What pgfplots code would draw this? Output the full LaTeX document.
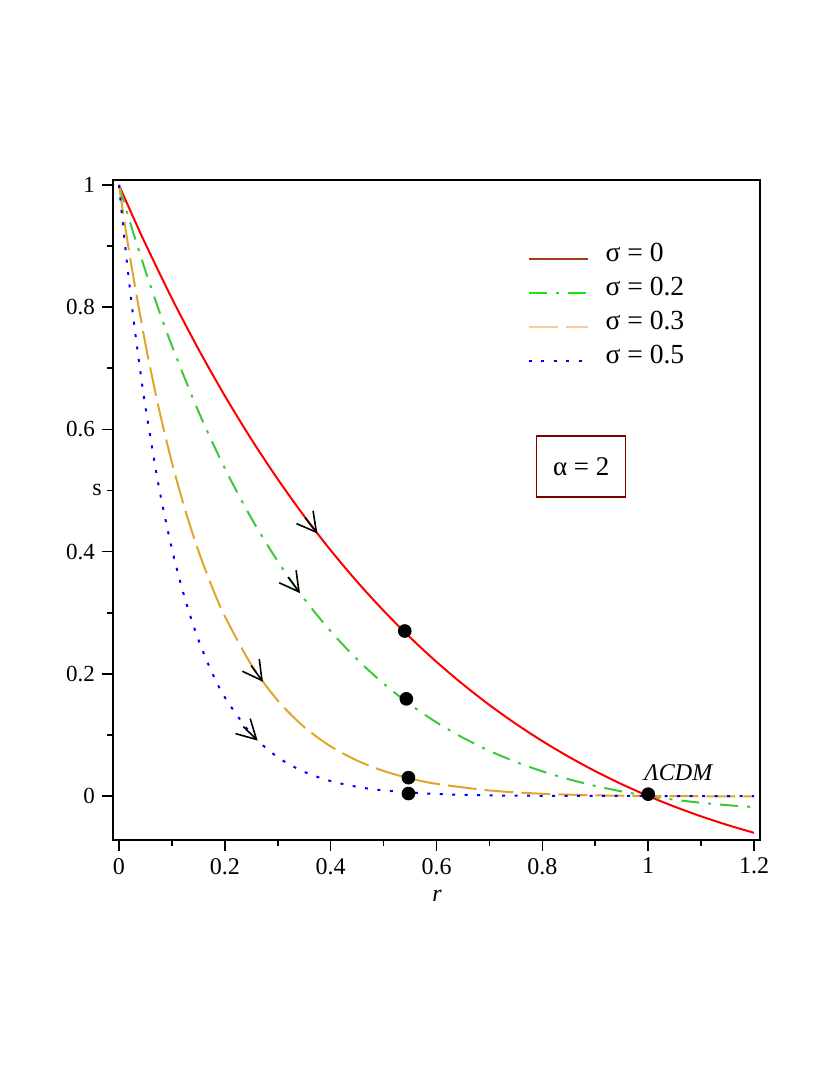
\documentclass[border=0pt]{standalone}
\usepackage{fontspec}
\setmainfont{Liberation Serif}
\usepackage{pgfplots}
\pgfplotsset{compat=1.18}
\usetikzlibrary{arrows.meta}

\definecolor{legbrown}{RGB}{165,60,25}
\definecolor{leggreen}{RGB}{20,230,20}
\definecolor{legpeach}{RGB}{255,200,150}
\definecolor{cgreen}{RGB}{60,200,60}
\definecolor{corange}{RGB}{225,165,45}
\definecolor{alphabox}{RGB}{128,0,0}

\begin{document}
\begin{tikzpicture}
\useasboundingbox (0,0) rectangle (415pt,537.5pt);
\begin{axis}[
    at={(56.5pt,117.5pt)}, anchor=south west,
    scale only axis, width=323.5pt, height=330pt,
    xmin=-0.0113, xmax=1.2113, ymin=-0.072, ymax=1.0082,
    axis line style={line width=1pt},
    xtick={0,0.2,0.4,0.6,0.8,1,1.2},
    minor xtick={0.1,0.3,0.5,0.7,0.9,1.1},
    ytick={0,0.2,0.4,0.6,0.8,1},
    minor ytick={0.1,0.3,0.5,0.7,0.9},
    xtick pos=lower, ytick pos=left,
    tick align=outside,
    major tick length=5.5pt, minor tick length=2.8pt,
    tick style={black, line width=0.8pt},
    /pgf/number format/assume math mode=true,
    xticklabel style={font=\fontsize{12}{14}\selectfont},
    yticklabel style={font=\fontsize{11.5}{14}\selectfont},
    xlabel={\textit{r}},
    ylabel={s},
    xlabel style={font=\fontsize{12}{14}\selectfont, at={(axis description cs:0.501,0)}, anchor=center, yshift=-28pt},
    ylabel style={font=\fontsize{12}{14}\selectfont, at={(axis description cs:0,0.530)}, anchor=center, rotate=-90, xshift=-8pt},
    legend image code/.code={\draw[#1] (0pt,0pt) -- (29.5pt,0pt);},
    legend style={draw=none, fill=none, inner sep=0pt, outer sep=0pt,
        at={(axis cs:0.772,0.9065)}, anchor=north west,
        font=\fontsize{13.8}{15}\selectfont, column sep=8.5pt, row sep=0pt,
        nodes={inner sep=0pt, text height=9.5pt, text depth=7.5pt}},
    legend cell align=left,
    clip=true,
]

% sigma = 0
\addplot[red, line width=1pt, smooth, forget plot] coordinates {
(0,1) (0.025,0.95093) (0.05,0.90367) (0.1,0.81435) (0.15,0.73160) (0.2,0.65498)
(0.25,0.58410) (0.3,0.51857) (0.35,0.45805) (0.4,0.40219) (0.45,0.35070)
(0.5,0.30327) (0.55,0.25963) (0.6,0.21952) (0.65,0.18272) (0.7,0.14898)
(0.75,0.11809) (0.8,0.08987) (0.85,0.06411) (0.9,0.04066) (0.95,0.01934)
(1.0,0) (1.05,-0.01750) (1.1,-0.03329) (1.15,-0.04750) (1.2,-0.06024)
};
% sigma = 0.2
\addplot[cgreen, line width=1pt, smooth, dash pattern=on 9pt off 4.5pt on 1.5pt off 4.5pt, forget plot] coordinates {
(0,1) (0.025,0.92745) (0.05,0.85960) (0.075,0.79615) (0.1,0.73686) (0.15,0.62970)
(0.2,0.53626) (0.25,0.45490) (0.3,0.38417) (0.35,0.32278) (0.4,0.26960)
(0.45,0.22361) (0.5,0.18394) (0.55,0.14979) (0.6,0.12048) (0.65,0.09539)
(0.7,0.07398) (0.75,0.05578) (0.8,0.04038) (0.85,0.02740) (0.9,0.01653)
(0.95,0.00748) (1.0,0) (1.05,-0.00612) (1.1,-0.01108) (1.15,-0.01504) (1.2,-0.01814)
};
% sigma = 0.3
\addplot[corange, line width=1pt, smooth, dash pattern=on 14.5pt off 4pt, forget plot] coordinates {
(0,1) (0.01,0.94172) (0.025,0.86044) (0.05,0.73986) (0.075,0.63574) (0.1,0.54588)
(0.125,0.46835) (0.15,0.40151) (0.175,0.34391) (0.2,0.29430) (0.25,0.21488)
(0.3,0.15619) (0.35,0.11295) (0.4,0.08120) (0.45,0.05797) (0.5,0.04104)
(0.55,0.02877) (0.6,0.01991) (0.7,0.00906) (0.8,0.00366) (0.9,0.00111)
(1.0,0) (1.1,-0.00041) (1.2,-0.00050)
};
% sigma = 0.5
\addplot[blue, line width=1pt, smooth, dash pattern=on 1.5pt off 4.75pt, forget plot] coordinates {
(0,1) (0.01,0.91388) (0.02,0.83510) (0.03,0.76303) (0.04,0.69710) (0.05,0.63680)
(0.075,0.50765) (0.1,0.40440) (0.125,0.32190) (0.15,0.25601) (0.175,0.20344)
(0.2,0.16152) (0.25,0.10150) (0.3,0.06350) (0.35,0.03953) (0.4,0.02446)
(0.45,0.01503) (0.5,0.00916) (0.6,0.00329) (0.7,0.00111) (0.8,0.00033)
(1.0,0) (1.2,0)
};

% direction arrows
\addplot[black, line width=0.8pt, forget plot,
    quiver={u=\thisrow{u}, v=\thisrow{v}},
    -{Straight Barb[length=9.5pt, width=10.5pt]}] table {
x      y      u      v
0.3518 0.4555 0.0232 -0.0259
0.3195 0.3583 0.0225 -0.0263
0.2498 0.2134 0.0222 -0.0265
0.2350 0.1136 0.0270 -0.0229
};

% points
\addplot[only marks, mark=*, mark size=3.2pt, black, forget plot] coordinates {
(0.540,0.270) (0.543,0.159) (0.547,0.030) (0.547,0.004) (1.0,0.003)
};

\addlegendimage{legbrown, line width=1pt}
\addlegendentry{σ = 0}
\addlegendimage{leggreen, line width=1pt, dash pattern=on 9pt off 4.5pt on 1.5pt off 4.5pt}
\addlegendentry{σ = 0.2}
\addlegendimage{legpeach, line width=1pt, dash pattern=on 14.5pt off 4pt}
\addlegendentry{σ = 0.3}
\addlegendimage{blue, line width=1pt, dash pattern=on 1.5pt off 4.75pt}
\addlegendentry{σ = 0.5}

\node[draw=alphabox, line width=0.8pt, minimum width=44.5pt, minimum height=30.5pt,
      font=\fontsize{13.5}{15}\selectfont] at (axis cs:0.8734,0.539) {α = 2};
\node[font=\itshape\fontsize{12}{14}\selectfont, anchor=base] at (axis cs:1.057,0.026) {ΛCDM};

\end{axis}
\end{tikzpicture}
\end{document}
